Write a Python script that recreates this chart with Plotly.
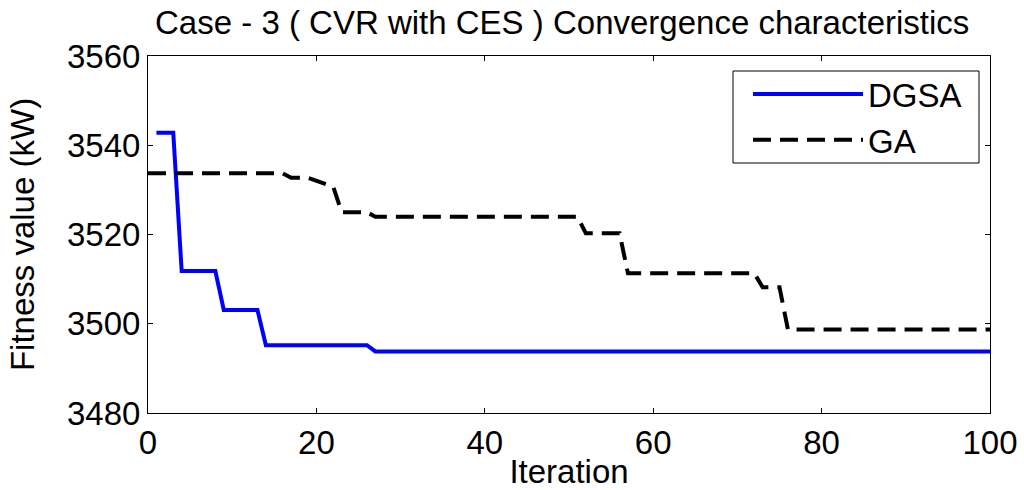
import plotly.graph_objects as go

# DGSA breakpoints (iteration, fitness)
dgsa_iter = [1, 3, 4, 8, 9, 13, 14, 26, 27, 100]
dgsa_val = [3542.8, 3542.8, 3511.8, 3511.8, 3503.1, 3503.1, 3495.2, 3495.2, 3493.8, 3493.8]

# GA breakpoints (iteration, fitness)
ga_iter = [0, 16, 17, 19, 22, 23, 26, 27, 51, 52, 56, 57, 72, 73, 75, 76, 100]
ga_val = [3533.7, 3533.7, 3532.7, 3532.7, 3530.7, 3525.0, 3525.0, 3524.0, 3524.0,
          3520.3, 3520.3, 3511.3, 3511.3, 3508.2, 3508.2, 3498.7, 3498.7]

x_ticks = [0, 20, 40, 60, 80, 100]
y_ticks = [3480, 3500, 3520, 3540, 3560]

FONT = "Liberation Sans, Arial, sans-serif"
FS = 33

fig = go.Figure()
fig.add_trace(go.Scatter(x=dgsa_iter, y=dgsa_val, mode="lines", name="DGSA",
                         line=dict(color="#0000ff", width=4)))
fig.add_trace(go.Scatter(x=ga_iter, y=ga_val, mode="lines", name="GA",
                         line=dict(color="black", width=4, dash="18px,9px")))

axis_common = dict(showline=True, linecolor="black", linewidth=1, mirror="ticks",
                   ticks="inside", ticklen=5, tickcolor="black", showgrid=False,
                   zeroline=False, automargin=False,
                   tickfont=dict(family=FONT, size=FS, color="black"))

# legend frame drawn as a paper-space rectangle
fig.add_shape(type="rect", xref="paper", yref="paper",
              x0=(733 - 148) / 842, x1=(979 - 148) / 842,
              y0=(413 - 163) / 357, y1=(413 - 71) / 357,
              line=dict(color="black", width=1), fillcolor="white", layer="above")

fig.update_layout(
    width=1024, height=490,
    margin=dict(l=148, r=34, t=56, b=77, autoexpand=False),
    paper_bgcolor="white", plot_bgcolor="white",
    title=dict(text="Case - 3 ( CVR with CES ) Convergence characteristics",
               x=0.5490, xanchor="center", y=0.955, yanchor="middle",
               font=dict(family=FONT, size=FS, color="black")),
    xaxis=dict(range=[0, 100], tickvals=x_ticks,
               title=dict(text="Iteration", font=dict(family=FONT, size=FS, color="black"),
                          standoff=6),
               **axis_common),
    yaxis=dict(range=[3480, 3560], tickvals=y_ticks,
               title=dict(text="Fitness value (kW)", font=dict(family=FONT, size=FS, color="black"),
                          standoff=22),
               **axis_common),
    legend=dict(x=(748 - 148) / 842, xanchor="left", y=(413 - 66) / 357, yanchor="top",
                bgcolor="rgba(0,0,0,0)", borderwidth=0,
                font=dict(family=FONT, size=FS, color="black"),
                itemwidth=110, tracegroupgap=0),
    showlegend=True,
)

fig.write_html("out.html")
